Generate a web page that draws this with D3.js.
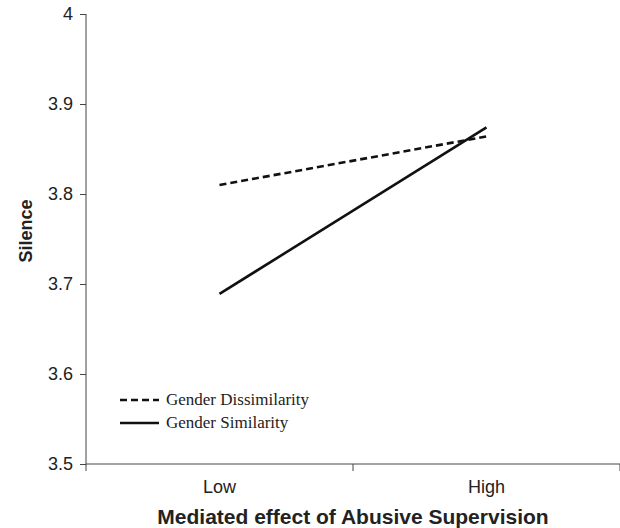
<!DOCTYPE html>
<html>
<head>
<meta charset="utf-8">
<script src="https://cdn.jsdelivr.net/npm/d3@7"></script>
<style>
  body { margin: 0; background: #fff; }
  svg { display: block; }
</style>
</head>
<body>
<div id="chart"></div>
<script>
// data
var categories = ["Low", "High"];
var dissimilarity = [3.81, 3.864];
var similarity = [3.689, 3.874];
var yTicks = [3.5, 3.6, 3.7, 3.8, 3.9, 4];
var seriesNames = ["Gender Dissimilarity", "Gender Similarity"];

var width = 620, height = 528;
var svg = d3.select("#chart").append("svg")
    .attr("width", width)
    .attr("height", height);

var xScale = d3.scaleBand()
    .domain(categories)
    .range([86, 620])
    .padding(0);
var yScale = d3.scaleLinear()
    .domain([3.5, 4])
    .range([464, 14]);

// y axis
var yAxis = svg.append("g")
    .attr("transform", "translate(86,0)")
    .call(d3.axisLeft(yScale).tickValues(yTicks).tickSize(6).tickPadding(7)
        .tickFormat(function(d){ return d === 4 ? "4" : d3.format(".1f")(d); }));
yAxis.selectAll("text")
    .attr("font-family", "Liberation Sans, Arial, sans-serif")
    .attr("font-size", 18)
    .attr("fill", "#222");
yAxis.selectAll("line, path").attr("stroke", "#444");
yAxis.select(".domain").attr("d", "M0,14V464");

// x axis
var xAxis = svg.append("g")
    .attr("transform", "translate(0,464)")
    .call(d3.axisBottom(xScale).tickSize(0).tickPadding(16));
xAxis.select(".domain").attr("d", "M86,0H620").attr("stroke", "#444");
xAxis.selectAll("text")
    .attr("font-family", "Liberation Sans, Arial, sans-serif")
    .attr("font-size", 18)
    .attr("fill", "#222");
// ticks at band boundaries
var bounds = [86, xScale("High"), 620];
xAxis.selectAll(".bound").data(bounds).enter().append("line")
    .attr("class", "bound")
    .attr("x1", function(d){ return d; })
    .attr("x2", function(d){ return d; })
    .attr("y1", 0).attr("y2", 7)
    .attr("stroke", "#444");

// axis titles
svg.append("text")
    .attr("x", 353)
    .attr("y", 524)
    .attr("text-anchor", "middle")
    .attr("font-family", "Liberation Sans, Arial, sans-serif")
    .attr("font-weight", "bold")
    .attr("font-size", 21)
    .attr("fill", "#222")
    .text("Mediated effect of Abusive Supervision");
svg.append("text")
    .attr("transform", "translate(32,231) rotate(-90)")
    .attr("text-anchor", "middle")
    .attr("font-family", "Liberation Sans, Arial, sans-serif")
    .attr("font-weight", "bold")
    .attr("font-size", 18)
    .attr("fill", "#222")
    .text("Silence");

// lines
var line = d3.line()
    .x(function(d, i){ return xScale(categories[i]) + xScale.bandwidth() / 2; })
    .y(function(d){ return yScale(d); });

svg.append("path")
    .attr("d", line(dissimilarity))
    .attr("fill", "none")
    .attr("stroke", "#111")
    .attr("stroke-width", 2.6)
    .attr("stroke-dasharray", "7,4");
svg.append("path")
    .attr("d", line(similarity))
    .attr("fill", "none")
    .attr("stroke", "#111")
    .attr("stroke-width", 2.6);

// legend
var legend = svg.append("g");
var dashes = ["7,4", null];
seriesNames.forEach(function(name, i){
    var y = 400 + i * 23;
    legend.append("line")
        .attr("x1", 120).attr("x2", 159)
        .attr("y1", y).attr("y2", y)
        .attr("stroke", "#111")
        .attr("stroke-width", 2.6)
        .attr("stroke-dasharray", dashes[i]);
    legend.append("text")
        .attr("x", 166).attr("y", y + 5)
        .attr("font-family", "Liberation Serif, Times New Roman, serif")
        .attr("font-size", 17)
        .attr("fill", "#222")
        .text(name);
});
</script>
</body>
</html>
